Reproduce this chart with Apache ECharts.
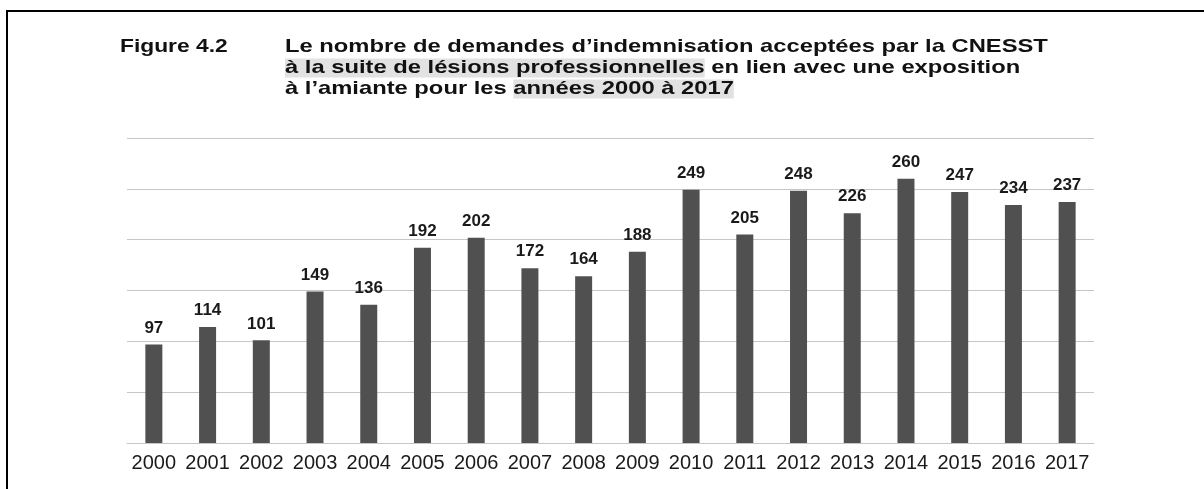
<!DOCTYPE html>
<html>
<head>
    <meta charset="utf-8">
    <title>Figure 4.2</title>
    <script src="https://cdn.jsdelivr.net/npm/echarts@6/dist/echarts.min.js"></script>
    <style>
        html, body { margin: 0; padding: 0; background: #fff; }
        #main { width: 1204px; height: 489px; }
    </style>
</head>
<body>
<div id="main"></div>
<script type="text/javascript">
    // années
    var annees = ['2000', '2001', '2002', '2003', '2004', '2005', '2006', '2007', '2008',
        '2009', '2010', '2011', '2012', '2013', '2014', '2015', '2016', '2017'];
    // demandes acceptées
    var demandes = [97, 114, 101, 149, 136, 192, 202, 172, 164,
        188, 249, 205, 248, 226, 260, 247, 234, 237];

    var police = '"Liberation Sans", Arial, sans-serif';
    // le titre de l'image source est un peu étiré en largeur
    var etirement = 1.25;

    var styleTexte = { fontFamily: police, fontSize: 19, fontWeight: 'bold', fill: '#111', lineHeight: 21 };
    var styleSurligne = { fontFamily: police, fontSize: 19, fontWeight: 'bold', fill: '#111', lineHeight: 21,
        backgroundColor: '#e2e2e2' };

    function ligneTitre(texte, y) {
        return {
            type: 'text',
            x: 285,
            y: y,
            scaleX: etirement,
            style: {
                text: texte,
                font: 'bold 19px ' + police,
                fill: '#111',
                align: 'left',
                verticalAlign: 'middle',
                rich: { a: styleTexte, h: styleSurligne }
            }
        };
    }

    var myChart = echarts.init(document.getElementById('main'));

    var option = {
        backgroundColor: '#fff',
        animation: false,
        graphic: [{
            type: 'polyline',
            shape: { points: [[7, 489], [7, 11], [1204, 11]] },
            style: { stroke: '#000', lineWidth: 2, fill: null }
        }, {
            type: 'text',
            x: 120,
            y: 47,
            scaleX: 1.2,
            style: {
                text: 'Figure 4.2',
                font: 'bold 19px ' + police,
                fill: '#111',
                align: 'left',
                verticalAlign: 'middle'
            }
        },
            ligneTitre('{a|Le nombre de demandes d\u2019indemnisation acceptées par la CNESST}', 47),
            ligneTitre('{h|à la suite de lésions professionnelles}{a| en lien avec une exposition}', 68),
            ligneTitre('{a|à l\u2019amiante pour les }{h|années 2000 à 2017}', 89)
        ],
        grid: { left: 127, right: 110, top: 138, bottom: 46 },
        xAxis: {
            type: 'category',
            data: annees,
            axisLine: { lineStyle: { color: '#c6c6c6', width: 1 } },
            axisTick: { show: false },
            axisLabel: { interval: 0, fontFamily: police, fontSize: 20, color: '#1a1a1a', margin: 10 }
        },
        yAxis: {
            type: 'value',
            min: 0,
            max: 300,
            interval: 50,
            axisLabel: { show: false },
            axisLine: { show: false },
            axisTick: { show: false },
            splitLine: { lineStyle: { color: '#c6c6c6', width: 1 } }
        },
        series: [{
            type: 'bar',
            data: demandes,
            barWidth: 17,
            itemStyle: { color: '#505050' },
            label: {
                show: true,
                position: 'top',
                distance: 8,
                fontFamily: police,
                fontSize: 17,
                fontWeight: 'bold',
                color: '#1a1a1a'
            }
        }]
    };

    myChart.setOption(option);
</script>
</body>
</html>
